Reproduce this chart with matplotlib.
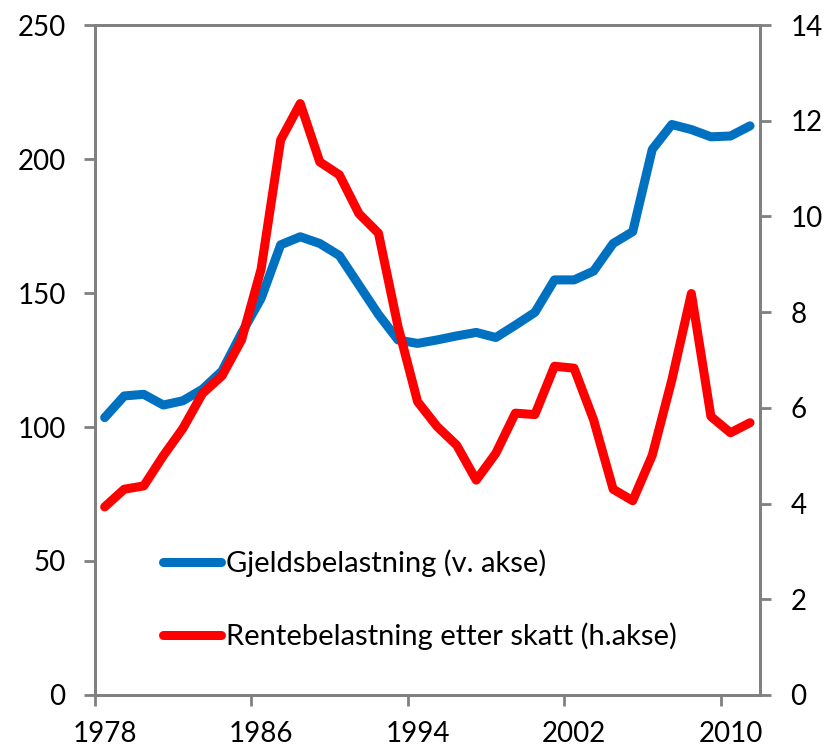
import numpy as np
import matplotlib.pyplot as plt

years = list(range(1978, 2012))
gjeld = [103.5, 111.6, 112.2, 108.2, 109.8, 114.1, 120.9, 135.0, 148.0, 168.0,
         171.0, 168.5, 164.0, 153.0, 142.0, 132.5, 131.2, 132.5, 134.0, 135.3,
         133.4, 138.0, 142.8, 154.9, 154.9, 158.2, 168.5, 172.9, 203.6, 212.9,
         211.0, 208.3, 208.6, 212.4]
rente = [3.93, 4.3, 4.37, 5.0, 5.57, 6.3, 6.67, 7.42, 8.9, 11.6,
         12.36, 11.14, 10.87, 10.06, 9.65, 7.7, 6.13, 5.61, 5.22, 4.49,
         5.05, 5.89, 5.86, 6.87, 6.83, 5.75, 4.3, 4.06, 5.01, 6.58,
         8.39, 5.82, 5.48, 5.69]
xlabels = [1978, 1986, 1994, 2002, 2010]

plt.rcParams['font.family'] = ['Lato', 'DejaVu Sans']
fig = plt.figure(figsize=(8.25, 7.51), dpi=100)
ax = fig.add_axes([0.115, 0.0746, 0.806, 0.892])
ax2 = ax.twinx()

gray = '#808080'
l1, = ax.plot(years, gjeld, color='#0070c0', lw=6.5, solid_capstyle='round',
              solid_joinstyle='round', label='Gjeldsbelastning (v. akse)')
l2, = ax2.plot(years, rente, color='#ff0000', lw=6.5, solid_capstyle='round',
               solid_joinstyle='round', label='Rentebelastning etter skatt (h.akse)')

ax.set_xlim(1977.5, 2011.5)
ax.set_ylim(0, 250)
ax2.set_ylim(0, 14)
ax.set_yticks(np.arange(0, 251, 50))
ax2.set_yticks(np.arange(0, 15, 2))
ax.set_xticks(xlabels)
ax.set_xticklabels([str(y) for y in xlabels])
ax.set_xticks([1977.5 + 8 * k for k in range(5)], minor=True)

for a in (ax, ax2):
    for s in ('left', 'right', 'bottom', 'top'):
        a.spines[s].set_color(gray)
        a.spines[s].set_linewidth(2)
ax.tick_params(axis='x', which='major', length=0, labelsize=20, pad=19)
ax.tick_params(axis='x', which='minor', length=8, width=2, color=gray)
ax.tick_params(axis='y', length=8, width=2, color=gray, labelsize=20, pad=13)
ax2.tick_params(axis='y', length=8, width=2, color=gray, labelsize=20, pad=14)

ax.legend(handles=[l1, l2], loc='lower left', bbox_to_anchor=(0.085, 0.05),
          frameon=False, fontsize=21, handlelength=2.0, handletextpad=0.15,
          labelspacing=1.55, borderaxespad=0)

fig.savefig('out.png', dpi=100)
